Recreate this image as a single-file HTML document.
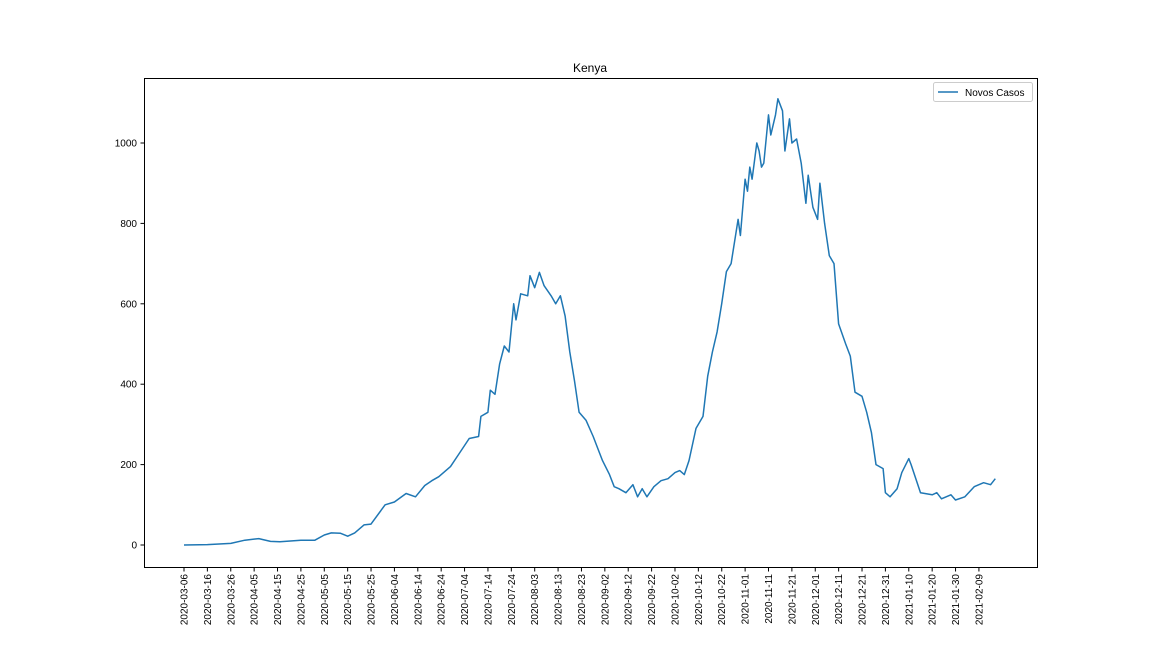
<!DOCTYPE html>
<html><head><meta charset="utf-8"><style>
body{margin:0;background:#fff;}
svg{display:block;font-family:"Liberation Sans","DejaVu Sans",sans-serif;}
</style></head><body>
<svg id="chart" width="1152" height="648">
<rect width="1152" height="648" fill="#fff"/>
<text x="590" y="72" font-size="12" text-anchor="middle">Kenya</text>
<g id="marks"></g>
<rect x="144.5" y="78.5" width="893" height="489" fill="none" stroke="#000" stroke-width="1"/>
<g>
<rect x="933.5" y="82.5" width="99" height="19" fill="#fff" stroke="#ccc" rx="2"/>
<line x1="938" y1="92" x2="958" y2="92" stroke="#1f77b4" stroke-width="1.5"/>
<text x="965" y="96" font-size="10">Novos Casos</text>
</g>
</svg>
<script>
const dayOffsets=[0,10,20,26,32,37,41,50,56,60,63,67,70,73,77,80,86,90,95,99,103,106,109,114,118,122,126,127,130,131,133,135,137,139,141,142,144,147,148,150,152,154,157,159,161,163,165,167,169,172,175,177,179,182,184,186,189,192,194,196,198,201,204,207,210,212,214,216,219,222,224,226,228,230,232,234,237,238,240,241,242,243,245,246,247,248,250,251,253,254,256,257,259,260,262,264,266,267,269,271,272,274,276,278,280,283,285,287,290,292,294,296,299,300,302,305,307,310,311,315,320,322,324,328,330,334,338,342,345,347];
const newCases=[0,1,4,12,16,9,8,12,12,25,30,29,22,30,50,52,100,107,128,120,148,160,170,195,230,265,270,320,330,385,375,450,495,480,600,560,625,620,670,640,678,645,620,600,620,570,480,410,330,310,270,240,210,175,145,140,130,150,120,140,120,145,160,165,180,185,175,210,290,320,420,480,530,600,680,700,810,770,910,880,940,910,1000,980,940,950,1070,1020,1070,1110,1080,980,1060,1000,1010,950,850,920,840,810,900,800,720,700,550,500,470,380,370,330,280,200,190,130,120,140,180,215,200,130,125,130,115,125,112,120,145,155,150,165];
const xTickLabels=["2020-03-06","2020-03-16","2020-03-26","2020-04-05","2020-04-15","2020-04-25","2020-05-05","2020-05-15","2020-05-25","2020-06-04","2020-06-14","2020-06-24","2020-07-04","2020-07-14","2020-07-24","2020-08-03","2020-08-13","2020-08-23","2020-09-02","2020-09-12","2020-09-22","2020-10-02","2020-10-12","2020-10-22","2020-11-01","2020-11-11","2020-11-21","2020-12-01","2020-12-11","2020-12-21","2020-12-31","2021-01-10","2021-01-20","2021-01-30","2021-02-09"];
const yTicks=[0,200,400,600,800,1000];

const NS="http://www.w3.org/2000/svg";
const g=document.getElementById('marks');
function xs(d){return 184+d*2.338;}
function ys(v){return 545-v*0.402;}
function mk(t,a){const e=document.createElementNS(NS,t);for(const k in a)e.setAttribute(k,a[k]);g.appendChild(e);return e;}
yTicks.forEach(v=>{
  const y=ys(v);
  const t=mk('line',{x1:140.5,x2:144.5,y1:y,y2:y,stroke:'#000'});
  
  
  const l=mk('text',{x:137,y:y+3.5,'font-size':10,'text-anchor':'end'});
  l.textContent=v;
  
  
});
xTickLabels.forEach((s,i)=>{
  const x=xs(i*10);
  const t=mk('line',{x1:x,x2:x,y1:567.5,y2:571.5,stroke:'#000'});
  
  
  const l=mk('text',{x:0,y:0,'font-size':10,'text-anchor':'end',transform:`translate(${x+3.5},574) rotate(-90)`});
  l.textContent=s;
  
  
});
const pts=dayOffsets.map((d,i)=>xs(d).toFixed(1)+','+ys(newCases[i]).toFixed(1)).join(' ');
const line=mk('polyline',{points:pts,fill:'none',stroke:'#1f77b4','stroke-width':1.5,'stroke-linejoin':'round'});


</script>
</body></html>
